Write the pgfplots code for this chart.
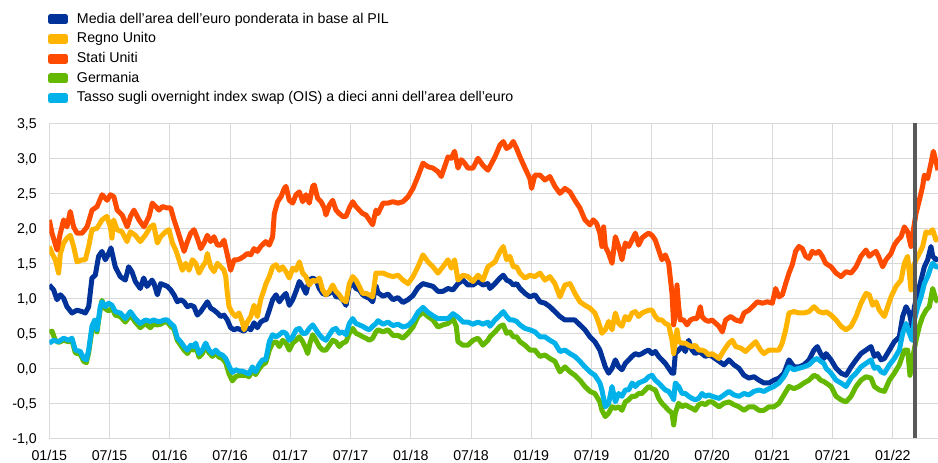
\documentclass[border=0pt]{standalone}
\usepackage{fontspec}
\setmainfont{Liberation Sans}
\usepackage{pgfplots}
\pgfplotsset{compat=1.18}
\definecolor{cBlue}{HTML}{003299}
\definecolor{cYellow}{HTML}{FFB400}
\definecolor{cOrange}{HTML}{FF4B00}
\definecolor{cGreen}{HTML}{65B800}
\definecolor{cLight}{HTML}{00B1EA}
\definecolor{gridc}{RGB}{217,217,217}
\definecolor{vline}{RGB}{89,89,89}
\begin{document}
\begin{tikzpicture}[x=1pt,y=1pt]
\useasboundingbox (0,0) rectangle (938,463);
\begin{axis}[
  at={(49.3pt,24.7pt)}, anchor=south west,
  scale only axis, width=888.7pt, height=315pt,
  xmin=0, xmax=88.5, ymin=-1, ymax=3.5,
  xtick={0,6,12,18,24,30,36,42,48,54,60,66,72,78,84},
  xticklabels={01/15,07/15,01/16,07/16,01/17,07/17,01/18,07/18,01/19,07/19,01/20,07/20,01/21,07/21,01/22},
  ytick={-1,-0.5,0,0.5,1,1.5,2,2.5,3,3.5},
  yticklabel={\pgfmathprintnumber[fixed,fixed zerofill,precision=1,use comma,assume math mode=true]{\tick}},
  grid=major,
  major grid style={draw=gridc, line width=1pt},
  axis line style={draw=none},
  tick style={draw=none},
  major tick length=0pt,
  tick label style={font=\fontsize{14.2}{17}\selectfont},
  xticklabel style={anchor=north, inner sep=0pt, yshift=-11.7pt},
  yticklabel style={anchor=east, inner sep=0pt, xshift=-12.3pt, text height=10.2pt, text depth=0pt},
  legend style={at={(axis description cs:0,1)}, anchor=north west, xshift=-1.3pt, yshift=110.7pt,
    draw=none, fill=none, inner sep=0pt, outer sep=0pt,
    font=\fontsize{14.2}{17}\selectfont, row sep=6.2pt, column sep=9pt,
    nodes={inner sep=0pt, text height=10.5pt, text depth=3pt}},
  legend cell align=left,
  legend image code/.code={\fill (0pt,-2.5pt) rectangle (15pt,2.5pt);},
  every axis plot/.append style={line width=5pt, line join=round},
]
\addplot[color=cBlue] coordinates {(0,1.19)(0.43,1.12)(0.77,0.98)(1.10,1.05)(1.43,1.00)(1.76,0.88)(2.26,0.79)(2.76,0.83)(3.26,0.81)(3.59,0.79)(3.92,0.88)(4.25,1.29)(4.58,1.33)(4.91,1.60)(5.25,1.67)(5.58,1.55)(5.91,1.64)(6.14,1.72)(6.57,1.45)(7.07,1.31)(7.57,1.26)(7.90,1.45)(8.23,1.38)(8.57,1.24)(9.06,1.14)(9.40,1.29)(9.73,1.17)(10.23,1.26)(10.43,1.21)(10.76,1.05)(11.09,1.21)(11.43,1.19)(11.76,1.17)(12.09,1.12)(12.42,1.05)(12.75,0.95)(13.08,0.98)(13.42,0.95)(13.75,0.88)(14.08,0.90)(14.41,0.88)(14.74,0.76)(15.08,0.81)(15.41,0.88)(15.74,0.95)(16.07,0.86)(16.40,0.83)(16.74,0.79)(17.07,0.74)(17.40,0.76)(17.73,0.69)(18.06,0.58)(18.40,0.55)(18.73,0.57)(19.06,0.55)(19.39,0.53)(19.72,0.58)(20.06,0.55)(20.39,0.65)(20.72,0.58)(21.05,0.66)(21.38,0.69)(21.58,0.69)(21.91,0.83)(22.24,0.98)(22.58,1.05)(22.91,0.95)(23.24,1.02)(23.57,1.07)(23.90,0.90)(24.24,0.98)(24.57,1.10)(24.90,1.24)(25.23,1.17)(25.56,1.07)(25.89,1.26)(26.23,1.29)(26.56,1.26)(26.89,1.14)(27.22,1.07)(27.55,1.05)(27.89,1.07)(28.22,1.12)(28.55,1.02)(28.88,1.02)(29.21,0.98)(29.55,0.90)(29.88,1.17)(30.21,1.21)(30.54,1.14)(30.87,1.12)(31.21,1.05)(31.54,1.02)(31.87,1.00)(32.20,0.95)(32.53,1.18)(32.73,1.08)(33.23,1.03)(33.73,1.06)(34.22,0.98)(34.72,1.01)(35.22,0.94)(35.72,0.98)(36.22,1.04)(36.71,1.15)(37.21,1.21)(37.71,1.19)(38.21,1.17)(38.70,1.10)(39.20,1.10)(39.70,1.14)(40.20,1.12)(40.70,1.21)(41.19,1.26)(41.69,1.19)(42.19,1.19)(42.69,1.24)(43.18,1.19)(43.68,1.21)(43.88,1.14)(44.38,1.21)(44.88,1.29)(45.21,1.33)(45.54,1.26)(45.87,1.24)(46.20,1.19)(46.54,1.21)(46.87,1.14)(47.37,1.07)(47.86,1.02)(48.36,1.05)(48.86,0.95)(49.36,0.93)(49.85,0.88)(50.35,0.81)(50.85,0.74)(51.35,0.69)(51.85,0.69)(52.34,0.69)(52.84,0.62)(53.34,0.55)(53.84,0.45)(54.33,0.38)(54.83,0.26)(55.03,0.17)(55.37,0.02)(55.70,-0.07)(56.04,0.00)(56.37,0.12)(56.70,0.02)(57.03,-0.02)(57.36,0.07)(57.70,0.12)(58.03,0.17)(58.36,0.21)(58.69,0.19)(59.02,0.21)(59.35,0.24)(59.69,0.26)(60.02,0.21)(60.35,0.24)(60.68,0.17)(61.01,0.12)(61.35,0.07)(61.68,0.00)(62.01,-0.07)(62.18,-0.07)(62.34,0.21)(62.67,0.26)(63.01,0.31)(63.34,0.24)(63.67,0.40)(64.00,0.26)(64.33,0.21)(64.67,0.24)(65.00,0.21)(65.33,0.17)(65.66,0.19)(66.00,0.17)(66.69,0.10)(67.19,0.05)(67.68,0.12)(68.18,0.05)(68.68,0.00)(69.18,-0.10)(69.67,-0.14)(70.17,-0.12)(70.67,-0.17)(71.17,-0.21)(71.67,-0.21)(72.16,-0.17)(72.66,-0.14)(73.16,-0.07)(73.66,0.12)(74.16,0.02)(74.65,0.02)(75.15,0.05)(75.65,0.12)(76.15,0.26)(76.48,0.31)(76.81,0.21)(77.14,0.14)(77.35,0.21)(77.85,0.12)(78.35,0.00)(78.84,-0.07)(79.34,-0.10)(79.84,0.02)(80.34,0.12)(80.83,0.21)(81.33,0.26)(81.83,0.31)(82.16,0.17)(82.49,0.21)(82.83,0.12)(83.16,0.14)(83.66,0.26)(84.15,0.38)(84.65,0.45)(84.98,0.74)(85.32,0.88)(85.65,0.79)(85.91,0.60)(86.15,0.88)(86.48,1.07)(86.81,1.26)(87.14,1.45)(87.47,1.55)(87.80,1.74)(87.97,1.60)(88.30,1.55)(88.50,1.58)};
\addlegendentry{Media dell’area dell’euro ponderata in base al PIL}
\addplot[color=cYellow] coordinates {(0,1.74)(0.27,1.64)(0.60,1.55)(0.93,1.36)(1.10,1.64)(1.43,1.79)(1.76,1.86)(2.09,1.90)(2.42,1.74)(2.76,1.52)(3.26,1.55)(3.59,1.55)(3.92,1.74)(4.25,1.98)(4.75,2.00)(5.25,2.12)(5.74,2.17)(6.08,2.02)(6.24,1.86)(6.41,2.12)(6.74,1.98)(7.24,1.95)(7.74,1.81)(8.07,1.95)(8.57,1.90)(9.06,1.81)(9.56,1.90)(10.06,2.02)(10.39,2.05)(10.76,1.79)(11.09,1.88)(11.59,1.95)(11.92,1.98)(12.26,1.79)(12.59,1.69)(12.92,1.55)(13.25,1.40)(13.58,1.50)(13.92,1.40)(14.25,1.55)(14.58,1.50)(14.91,1.36)(15.24,1.45)(15.57,1.52)(15.74,1.64)(16.07,1.45)(16.40,1.38)(16.74,1.50)(17.07,1.45)(17.40,1.40)(17.57,1.31)(17.73,1.07)(17.90,0.88)(18.23,0.79)(18.56,0.74)(18.89,0.79)(19.23,0.66)(19.39,0.55)(19.72,0.66)(20.06,0.74)(20.39,0.90)(20.72,0.74)(21.05,0.98)(21.38,1.12)(21.58,1.21)(21.91,1.31)(22.24,1.45)(22.58,1.48)(22.91,1.40)(23.24,1.45)(23.57,1.38)(23.90,1.29)(24.24,1.43)(24.57,1.40)(24.90,1.52)(25.23,1.36)(25.56,1.31)(25.89,1.19)(26.23,1.26)(26.56,1.24)(26.89,1.29)(27.22,1.12)(27.55,1.05)(27.89,1.10)(28.22,1.19)(28.55,1.10)(28.88,1.05)(29.21,0.98)(29.55,0.95)(29.88,1.21)(30.21,1.31)(30.54,1.26)(30.87,1.17)(31.21,1.07)(31.54,1.07)(31.87,1.05)(32.20,1.02)(32.53,1.36)(32.73,1.36)(33.23,1.36)(33.73,1.33)(34.22,1.31)(34.72,1.33)(35.22,1.26)(35.72,1.21)(36.22,1.31)(36.71,1.45)(37.21,1.62)(37.71,1.52)(38.21,1.45)(38.70,1.36)(39.20,1.45)(39.70,1.55)(40.03,1.43)(40.36,1.55)(40.70,1.26)(41.19,1.33)(41.69,1.31)(42.19,1.24)(42.69,1.33)(43.18,1.26)(43.68,1.45)(44.38,1.52)(44.88,1.67)(45.21,1.74)(45.54,1.55)(45.87,1.60)(46.20,1.45)(46.54,1.45)(46.87,1.36)(47.37,1.29)(47.86,1.33)(48.36,1.31)(48.86,1.36)(49.36,1.26)(49.85,1.31)(50.35,1.21)(50.85,1.02)(51.35,1.19)(51.85,1.21)(52.34,1.07)(52.84,0.95)(53.34,0.90)(53.84,0.86)(54.33,0.79)(54.67,0.67)(55.03,0.50)(55.37,0.55)(55.70,0.67)(56.04,0.55)(56.37,0.79)(56.70,0.64)(57.03,0.60)(57.36,0.74)(57.70,0.69)(58.03,0.79)(58.36,0.81)(58.69,0.74)(59.02,0.79)(59.35,0.81)(59.69,0.83)(60.02,0.83)(60.35,0.74)(60.68,0.69)(61.01,0.69)(61.35,0.64)(61.68,0.62)(62.01,0.40)(62.18,0.21)(62.51,0.55)(62.67,0.38)(63.01,0.36)(63.34,0.36)(63.67,0.33)(64.00,0.31)(64.33,0.33)(64.67,0.26)(65.00,0.26)(65.33,0.24)(65.66,0.19)(66.00,0.21)(66.69,0.14)(67.19,0.26)(67.68,0.36)(68.02,0.40)(68.35,0.31)(68.85,0.29)(69.34,0.24)(69.84,0.31)(70.34,0.38)(70.84,0.26)(71.17,0.21)(71.67,0.26)(72.16,0.26)(72.66,0.26)(72.99,0.36)(73.33,0.55)(73.66,0.79)(74.16,0.81)(74.65,0.79)(75.15,0.79)(75.65,0.81)(76.15,0.88)(76.64,0.81)(77.14,0.79)(77.35,0.81)(77.85,0.76)(78.35,0.69)(78.84,0.60)(79.34,0.55)(79.84,0.60)(80.34,0.74)(80.83,0.93)(81.33,1.07)(81.66,1.05)(81.99,0.90)(82.33,0.95)(82.66,0.83)(83.16,0.74)(83.49,0.88)(83.82,1.02)(84.32,1.17)(84.82,1.26)(85.15,1.50)(85.48,1.60)(85.81,1.12)(86.05,1.45)(86.31,1.55)(86.64,1.64)(86.97,1.74)(87.31,1.95)(87.64,1.93)(87.97,1.98)(88.30,1.83)(88.50,1.88)};
\addlegendentry{Regno Unito}
\addplot[color=cOrange] coordinates {(0,2.12)(0.27,1.93)(0.77,1.69)(1.10,1.93)(1.43,2.12)(1.76,2.02)(2.09,2.24)(2.42,2.02)(2.76,1.93)(3.26,1.93)(3.76,2.02)(4.26,2.26)(4.76,2.31)(5.26,2.48)(5.76,2.40)(6.09,2.48)(6.43,2.45)(6.76,2.26)(7.26,2.19)(7.76,2.02)(8.09,2.17)(8.43,2.26)(8.93,2.12)(9.43,2.02)(9.93,2.17)(10.26,2.36)(10.93,2.26)(11.26,2.31)(11.76,2.29)(12.09,2.29)(12.42,2.12)(12.75,1.98)(13.08,1.83)(13.42,1.67)(13.75,1.81)(14.08,1.93)(14.41,1.98)(14.74,1.86)(15.08,1.71)(15.41,1.79)(15.74,1.90)(16.07,1.81)(16.40,1.88)(16.74,1.76)(17.07,1.76)(17.40,1.83)(17.73,1.62)(18.06,1.40)(18.40,1.55)(18.73,1.55)(19.06,1.57)(19.39,1.60)(19.72,1.64)(20.06,1.62)(20.39,1.71)(20.72,1.67)(21.05,1.74)(21.55,1.81)(21.91,1.76)(22.24,1.88)(22.41,2.21)(22.74,2.38)(23.07,2.45)(23.41,2.57)(23.57,2.60)(23.90,2.40)(24.24,2.36)(24.57,2.48)(24.90,2.52)(25.23,2.38)(25.56,2.48)(25.89,2.36)(26.23,2.60)(26.39,2.62)(26.72,2.43)(27.06,2.38)(27.39,2.29)(27.55,2.19)(27.89,2.33)(28.22,2.40)(28.55,2.26)(28.88,2.21)(29.21,2.17)(29.55,2.17)(29.88,2.29)(30.21,2.38)(30.54,2.31)(30.87,2.26)(31.21,2.21)(31.54,2.19)(31.87,2.12)(32.20,2.05)(32.53,2.26)(32.73,2.21)(33.23,2.36)(33.73,2.36)(34.22,2.38)(34.72,2.36)(35.22,2.38)(35.72,2.45)(36.22,2.57)(36.71,2.74)(37.21,2.93)(37.71,2.88)(38.21,2.86)(38.70,2.81)(39.04,2.74)(39.37,2.88)(39.70,3.02)(40.03,3.00)(40.36,3.10)(40.70,2.86)(41.03,2.98)(41.36,2.93)(41.69,2.86)(42.19,2.86)(42.69,3.00)(43.18,2.90)(43.68,2.83)(44.38,3.02)(44.88,3.19)(45.21,3.24)(45.54,3.14)(45.87,3.17)(46.20,3.24)(46.54,3.14)(46.87,3.02)(47.37,2.86)(47.86,2.71)(48.03,2.57)(48.36,2.76)(48.86,2.76)(49.36,2.69)(49.85,2.74)(50.35,2.60)(50.85,2.50)(51.35,2.57)(51.85,2.52)(52.34,2.40)(52.84,2.29)(53.34,2.12)(53.84,2.05)(54.17,2.12)(54.50,2.07)(54.83,1.93)(55.03,1.74)(55.20,2.02)(55.37,1.74)(55.70,1.64)(56.04,1.50)(56.37,1.88)(56.70,1.74)(57.03,1.55)(57.36,1.79)(57.70,1.74)(58.03,1.83)(58.36,1.93)(58.69,1.76)(59.02,1.86)(59.35,1.90)(59.69,1.93)(60.02,1.90)(60.35,1.83)(60.68,1.69)(61.01,1.55)(61.35,1.62)(61.68,1.50)(62.01,1.07)(62.18,0.62)(62.34,0.79)(62.51,1.19)(62.67,0.88)(62.84,0.69)(63.17,0.69)(63.50,0.62)(63.84,0.69)(64.17,0.71)(64.50,0.71)(64.83,0.88)(65.00,0.74)(65.33,0.69)(65.66,0.67)(66.00,0.69)(66.69,0.60)(67.02,0.52)(67.35,0.69)(67.85,0.74)(68.35,0.69)(68.85,0.67)(69.18,0.79)(69.67,0.83)(70.17,0.90)(70.50,0.95)(71.00,0.93)(71.50,0.95)(72.00,0.93)(72.33,1.14)(72.66,1.02)(73.00,1.05)(73.33,1.21)(73.66,1.36)(73.99,1.48)(74.32,1.67)(74.65,1.74)(74.99,1.71)(75.32,1.60)(75.65,1.57)(75.98,1.67)(76.31,1.64)(76.64,1.67)(76.98,1.60)(77.31,1.50)(77.85,1.45)(78.35,1.36)(78.84,1.31)(79.34,1.38)(79.84,1.36)(80.34,1.45)(80.83,1.60)(81.33,1.69)(81.66,1.60)(81.99,1.64)(82.33,1.67)(82.66,1.57)(82.99,1.45)(83.32,1.55)(83.82,1.64)(84.15,1.76)(84.49,1.83)(84.82,1.88)(85.15,2.02)(85.48,1.95)(85.81,1.74)(86.05,1.98)(86.31,2.21)(86.64,2.40)(86.97,2.60)(87.14,2.76)(87.47,2.71)(87.80,2.93)(88.04,3.10)(88.30,2.95)(88.50,2.83)};
\addlegendentry{Stati Uniti}
\addplot[color=cGreen] coordinates {(0,0.52)(0.27,0.53)(0.60,0.40)(0.93,0.37)(1.43,0.40)(1.93,0.38)(2.26,0.40)(2.59,0.22)(3.09,0.20)(3.42,0.10)(3.69,0.08)(3.92,0.22)(4.25,0.55)(4.52,0.66)(4.75,0.52)(5.08,0.85)(5.25,0.97)(5.58,0.85)(5.91,0.82)(6.24,0.86)(6.57,0.76)(7.07,0.74)(7.57,0.66)(8.07,0.76)(8.57,0.66)(9.06,0.58)(9.56,0.64)(10.06,0.58)(10.39,0.63)(10.76,0.62)(11.09,0.63)(11.43,0.66)(11.76,0.66)(12.09,0.60)(12.42,0.56)(12.75,0.40)(13.08,0.33)(13.42,0.26)(13.75,0.21)(14.08,0.28)(14.41,0.26)(14.58,0.32)(14.91,0.16)(15.24,0.21)(15.57,0.32)(15.91,0.22)(16.24,0.17)(16.57,0.22)(16.90,0.16)(17.23,0.14)(17.57,0.08)(17.90,-0.08)(18.23,-0.18)(18.56,-0.12)(18.89,-0.10)(19.23,-0.10)(19.56,-0.10)(19.89,-0.12)(20.22,-0.03)(20.55,-0.09)(20.88,-0.01)(21.22,0.05)(21.55,0.08)(21.70,0.15)(21.91,0.26)(22.24,0.36)(22.58,0.38)(22.91,0.31)(23.24,0.40)(23.57,0.36)(23.90,0.26)(24.24,0.36)(24.57,0.40)(24.90,0.45)(25.23,0.38)(25.50,0.30)(25.73,0.21)(25.96,0.36)(26.23,0.48)(26.56,0.40)(26.89,0.31)(27.22,0.26)(27.55,0.26)(27.89,0.33)(28.22,0.40)(28.55,0.38)(28.88,0.31)(29.21,0.36)(29.55,0.38)(29.88,0.50)(30.21,0.57)(30.54,0.50)(30.87,0.48)(31.21,0.45)(31.54,0.43)(31.87,0.40)(32.20,0.43)(32.53,0.52)(32.73,0.55)(33.23,0.52)(33.73,0.55)(34.22,0.47)(34.72,0.47)(35.22,0.43)(35.72,0.50)(36.22,0.59)(36.71,0.74)(37.21,0.80)(37.71,0.74)(38.21,0.69)(38.70,0.59)(39.20,0.62)(39.70,0.64)(40.20,0.71)(40.53,0.60)(40.70,0.38)(41.19,0.33)(41.69,0.33)(42.19,0.40)(42.69,0.43)(43.18,0.33)(43.68,0.40)(43.88,0.45)(44.38,0.52)(44.88,0.60)(45.21,0.62)(45.54,0.50)(45.87,0.52)(46.20,0.45)(46.54,0.45)(46.87,0.38)(47.37,0.33)(47.86,0.26)(48.36,0.26)(48.86,0.17)(49.36,0.19)(49.85,0.14)(50.35,0.10)(50.85,-0.05)(51.35,0.02)(51.85,-0.05)(52.34,-0.10)(52.84,-0.17)(53.34,-0.26)(53.84,-0.33)(54.33,-0.36)(54.83,-0.48)(55.03,-0.60)(55.37,-0.69)(55.70,-0.64)(56.04,-0.55)(56.37,-0.57)(56.70,-0.55)(57.03,-0.60)(57.36,-0.48)(57.70,-0.45)(58.03,-0.40)(58.36,-0.40)(58.69,-0.36)(59.02,-0.36)(59.35,-0.31)(59.69,-0.26)(60.02,-0.29)(60.35,-0.31)(60.68,-0.43)(61.01,-0.50)(61.35,-0.55)(61.68,-0.60)(62.01,-0.64)(62.18,-0.81)(62.34,-0.64)(62.67,-0.50)(63.01,-0.55)(63.34,-0.52)(63.67,-0.55)(64.00,-0.57)(64.33,-0.60)(64.67,-0.52)(65.00,-0.50)(65.33,-0.52)(65.66,-0.48)(66.00,-0.48)(66.69,-0.55)(67.19,-0.50)(67.68,-0.48)(68.18,-0.52)(68.68,-0.55)(69.18,-0.60)(69.67,-0.55)(70.17,-0.55)(70.67,-0.60)(71.17,-0.60)(71.67,-0.55)(72.16,-0.55)(72.66,-0.50)(73.16,-0.38)(73.66,-0.26)(74.16,-0.29)(74.65,-0.26)(75.15,-0.21)(75.65,-0.17)(76.15,-0.10)(76.48,-0.12)(76.81,-0.17)(77.14,-0.19)(77.35,-0.21)(77.85,-0.26)(78.35,-0.40)(78.84,-0.45)(79.34,-0.48)(79.84,-0.40)(80.34,-0.26)(80.83,-0.17)(81.33,-0.12)(81.83,-0.14)(82.16,-0.26)(82.66,-0.31)(83.16,-0.33)(83.66,-0.17)(84.15,-0.07)(84.65,0.05)(85.15,0.26)(85.48,0.26)(85.71,-0.10)(85.91,0.10)(86.31,0.40)(86.64,0.60)(86.97,0.74)(87.31,0.83)(87.64,0.88)(87.97,1.14)(88.30,0.98)(88.50,0.95)};
\addlegendentry{Germania}
\addplot[color=cLight] coordinates {(0,0.36)(0.43,0.40)(0.93,0.38)(1.43,0.43)(1.93,0.40)(2.26,0.43)(2.59,0.26)(3.09,0.24)(3.42,0.14)(3.69,0.12)(3.92,0.26)(4.25,0.60)(4.52,0.69)(4.75,0.55)(5.08,0.88)(5.25,0.95)(5.58,0.88)(5.91,0.93)(6.24,0.90)(6.57,0.81)(7.07,0.79)(7.57,0.71)(8.07,0.81)(8.57,0.71)(9.06,0.64)(9.56,0.69)(10.06,0.67)(10.39,0.69)(10.76,0.67)(11.09,0.67)(11.43,0.69)(11.76,0.69)(12.09,0.64)(12.42,0.60)(12.75,0.43)(13.08,0.38)(13.42,0.31)(13.75,0.26)(14.08,0.33)(14.41,0.31)(14.58,0.36)(14.91,0.21)(15.24,0.26)(15.57,0.36)(15.91,0.26)(16.24,0.21)(16.57,0.26)(16.90,0.21)(17.23,0.19)(17.57,0.14)(17.90,0.03)(18.23,-0.06)(18.56,-0.02)(18.89,-0.04)(19.23,-0.04)(19.56,-0.06)(19.89,-0.08)(20.22,0.02)(20.55,-0.05)(20.88,0.05)(21.22,0.12)(21.55,0.12)(21.75,0.26)(21.91,0.38)(22.24,0.48)(22.58,0.45)(22.91,0.48)(23.24,0.52)(23.57,0.50)(23.90,0.40)(24.24,0.45)(24.57,0.55)(24.90,0.57)(25.23,0.50)(25.56,0.50)(25.89,0.57)(26.23,0.62)(26.56,0.55)(26.89,0.48)(27.22,0.43)(27.55,0.40)(27.89,0.48)(28.22,0.55)(28.55,0.57)(28.88,0.50)(29.21,0.52)(29.55,0.48)(29.88,0.64)(30.21,0.71)(30.54,0.64)(30.87,0.62)(31.21,0.60)(31.54,0.57)(31.87,0.55)(32.20,0.60)(32.53,0.64)(32.73,0.68)(33.23,0.63)(33.73,0.66)(34.22,0.61)(34.72,0.63)(35.22,0.59)(35.72,0.61)(36.22,0.68)(36.71,0.80)(37.21,0.87)(37.71,0.80)(38.21,0.75)(38.70,0.71)(39.20,0.71)(39.70,0.71)(40.20,0.78)(40.70,0.73)(41.19,0.66)(41.69,0.66)(42.19,0.63)(42.69,0.66)(43.18,0.63)(43.68,0.66)(43.88,0.60)(44.38,0.69)(44.88,0.76)(45.21,0.81)(45.54,0.74)(45.87,0.69)(46.20,0.69)(46.54,0.67)(46.87,0.62)(47.37,0.57)(47.86,0.55)(48.36,0.52)(48.86,0.45)(49.36,0.45)(49.85,0.40)(50.35,0.36)(50.85,0.24)(51.35,0.26)(51.85,0.21)(52.34,0.17)(52.84,0.10)(53.34,0.02)(53.84,-0.05)(54.33,-0.10)(54.83,-0.21)(55.03,-0.31)(55.37,-0.55)(55.70,-0.50)(56.04,-0.26)(56.37,-0.48)(56.70,-0.36)(57.03,-0.40)(57.36,-0.31)(57.70,-0.31)(58.03,-0.21)(58.36,-0.26)(58.69,-0.21)(59.02,-0.19)(59.35,-0.17)(59.69,-0.12)(60.02,-0.10)(60.35,-0.17)(60.68,-0.21)(61.01,-0.26)(61.35,-0.31)(61.68,-0.33)(62.01,-0.40)(62.18,-0.45)(62.34,-0.21)(62.67,-0.26)(63.01,-0.36)(63.34,-0.36)(63.67,-0.40)(64.00,-0.43)(64.33,-0.45)(64.67,-0.43)(65.00,-0.36)(65.33,-0.40)(65.66,-0.38)(66.00,-0.40)(66.69,-0.43)(67.19,-0.38)(67.68,-0.33)(68.18,-0.38)(68.68,-0.40)(69.18,-0.36)(69.67,-0.38)(70.17,-0.33)(70.67,-0.31)(71.17,-0.33)(71.67,-0.29)(72.16,-0.26)(72.66,-0.21)(73.16,-0.12)(73.66,0.02)(74.16,-0.02)(74.65,0.00)(75.15,0.02)(75.65,0.05)(76.15,0.12)(76.48,0.14)(76.81,0.10)(77.14,0.07)(77.35,0.00)(77.85,-0.07)(78.35,-0.17)(78.84,-0.21)(79.34,-0.26)(79.84,-0.14)(80.34,-0.07)(80.83,0.02)(81.33,0.07)(81.83,0.12)(82.16,0.00)(82.49,0.02)(82.83,-0.05)(83.16,-0.07)(83.66,0.05)(84.15,0.14)(84.65,0.26)(84.98,0.50)(85.32,0.64)(85.65,0.50)(85.91,0.40)(86.15,0.69)(86.48,0.88)(86.81,1.02)(87.14,1.21)(87.47,1.31)(87.80,1.45)(87.97,1.50)(88.30,1.45)(88.50,1.45)};
\addlegendentry{Tasso sugli overnight index swap (OIS) a dieci anni dell’area dell’euro}
\addplot[color=vline, line width=4pt, forget plot] coordinates {(86.18,-1) (86.18,3.5)};
\end{axis}
\end{tikzpicture}
\end{document}
